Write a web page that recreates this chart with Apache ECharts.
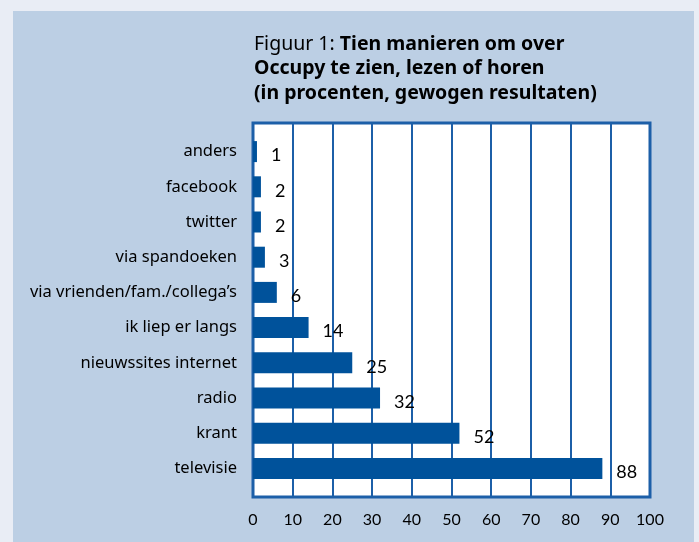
<!DOCTYPE html>
<html>
<head>
<meta charset="utf-8">
<script src="https://cdn.jsdelivr.net/npm/echarts@6/dist/echarts.min.js"></script>
<style>
html,body{margin:0;padding:0;background:#e9edf5;}
#c{width:699px;height:542px;}
</style>
</head>
<body>
<div id="c"></div>
<script>
var categories = ["anders","facebook","twitter","via spandoeken","via vrienden/fam./collega\u2019s","ik liep er langs","nieuwssites internet","radio","krant","televisie"];
var values = [1,2,2,3,6,14,25,32,52,88];
var xTicks = [0,10,20,30,40,50,60,70,80,90,100];

var FONT = "Lato, 'Noto Sans', sans-serif";
var TFONT = "'Noto Sans', sans-serif";
var chart = echarts.init(document.getElementById('c'), null, {renderer:'canvas'});
chart.setOption({
  backgroundColor: '#e9edf5',
  animation: false,
  graphic: [
    {type:'rect', z:-10, shape:{x:13,y:11,width:681,height:540}, style:{fill:'#bccfe4'}},
    {type:'text', left:254, top:34, z:10, style:{
      text:'{n|Figuur 1: }{b|Tien manieren om over}\n{b|Occupy te zien, lezen of horen}\n{b|(in procenten, gewogen resultaten)}',
      rich:{
        n:{fontFamily:TFONT, fontSize:19.5, fontWeight:'normal', fill:'#000', lineHeight:24.5},
        b:{fontFamily:TFONT, fontSize:19.5, fontWeight:'bold', fill:'#000', lineHeight:24.5}
      }
    }}
  ],
  grid: [
    {left:253, right:49, top:123, bottom:45, show:true, backgroundColor:'#ffffff', borderColor:'#1c5fa8', borderWidth:3, z:0},
    {left:253, right:49, top:134, bottom:56, show:false}
  ],
  xAxis: [
    {gridIndex:0, type:'value', min:0, max:100, interval:10,
     axisLine:{show:false}, axisTick:{show:false},
     splitLine:{show:true, lineStyle:{color:'#1c5fa8', width:2}},
     axisLabel:{color:'#000', fontFamily:FONT, fontSize:16, margin:15,
       formatter:function(v){return xTicks.indexOf(v)>=0?String(v):'';}}},
    {gridIndex:1, type:'value', min:0, max:100, show:false, splitLine:{show:false}}
  ],
  yAxis: [
    {gridIndex:0, type:'value', min:0, max:1, show:false, splitLine:{show:false}},
    {gridIndex:1, type:'category', data:categories, inverse:true,
     axisLine:{show:false}, axisTick:{show:false}, splitLine:{show:false},
     axisLabel:{color:'#000', fontFamily:TFONT, fontSize:16.5, margin:16}}
  ],
  series: [{
    type:'bar', xAxisIndex:1, yAxisIndex:1, data:values, barWidth:21,
    itemStyle:{color:'#00529b'}, z:5,
    label:{show:true, position:'right', distance:14, offset:[0,4], color:'#000', fontFamily:FONT, fontSize:18}
  }]
});
</script>
</body>
</html>
